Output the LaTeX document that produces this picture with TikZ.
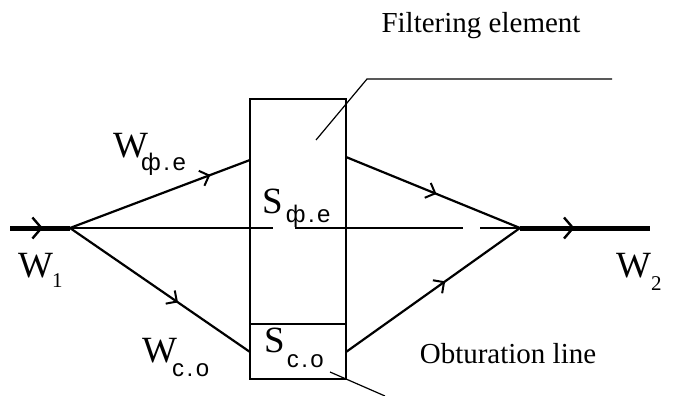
\documentclass[tikz,border=0pt]{standalone}
\usepackage{fontspec}
\setmainfont{Liberation Serif}
\newfontfamily\subf{Liberation Sans}
\usetikzlibrary{arrows.meta,decorations.markings}
\tikzset{
  branch/.style={line width=2.2pt},
  thin line/.style={line width=1.4pt},
  thickflow/.style={line width=5pt},
  midarrow/.style={postaction={decorate,decoration={markings,
     mark=at position #1 with {\arrow[line width=2pt]{Straight Barb[length=8pt,width=16pt]}}}}},
  bigarrow/.style={postaction={decorate,decoration={markings,
     mark=at position #1 with {\arrow[line width=2.4pt]{Straight Barb[length=9pt,width=21pt]}}}}},
  lbl/.style={anchor=base west, inner sep=0pt, font=\fontsize{37}{40}\selectfont},
  caption/.style={anchor=base, inner sep=0pt, font=\fontsize{29}{32}\selectfont},
}
\newcommand{\lowsub}[3]{\raisebox{-#1}{\fontsize{24}{28}\subf #2\kern2.5pt.\kern2.5pt#3}}
\newcommand{\lownum}[2]{\raisebox{-#1}{\fontsize{21}{24}\selectfont #2}}
\begin{document}
\begin{tikzpicture}[x=1pt,y=-1pt]
\useasboundingbox (0,0) rectangle (685,396);
% coordinates
\coordinate (in) at (10,228);
\coordinate (J1) at (70,228);
\coordinate (J2) at (520,228);
\coordinate (out) at (650,228);
\coordinate (UL) at (250,160);
\coordinate (UR) at (346,157);
\coordinate (LL) at (250,352);
\coordinate (LR) at (346,352);
\coordinate (g1a) at (273,228);
\coordinate (g1b) at (295,228);
\coordinate (g2a) at (463,228);
\coordinate (g2b) at (480,228);
\coordinate (fe1) at (316,140);
\coordinate (fe2) at (367,79);
\coordinate (fe3) at (612,79);
\coordinate (ob1) at (330,372);
\coordinate (ob2) at (385,396);
\coordinate (dl) at (250,324);
\coordinate (dr) at (346,324);
% box
\node[draw, thin line, minimum width=96pt, minimum height=280pt, inner sep=0pt] (box) at (298,239) {};
\draw[thin line] (dl) -- (dr);
% centre line
\draw[thin line] (J1) -- (g1a);
\draw[thin line] (g1b) -- (g2a);
\draw[thin line] (g2b) -- (J2);
% flows
\draw[thickflow, bigarrow=0.55] (in) -- (J1);
\draw[thickflow, bigarrow=0.42] (J2) -- (out);
\draw[branch, midarrow=0.78] (J1) -- (UL);
\draw[branch, midarrow=0.52] (UR) -- (J2);
\draw[branch, midarrow=0.6] (J1) -- (LL);
\draw[branch, midarrow=0.57] (LR) -- (J2);
% leaders
\draw[line width=1.2pt] (fe1) -- (fe2) -- (fe3);
\draw[line width=1.2pt] (ob1) -- (ob2);
% labels
\node[lbl] (wfe) at (113,157) {W\kern-7pt\lowsub{13pt}{ф}{e}};
\node[lbl] (w1) at (18,277) {W\kern-1pt\lownum{10pt}{1}};
\node[lbl] (w2) at (616,277) {W\lownum{13pt}{2}};
\node[lbl] (wco) at (142,362) {W\kern-5pt\lowsub{14pt}{c}{o}};
\node[lbl] (sfe) at (262,213) {S\kern3pt\lowsub{9pt}{ф}{e}};
\node[lbl] (sco) at (264,352) {S\kern2pt\lowsub{15pt}{c}{o}};
\node[caption] (fetext) at (481,33) {Filtering element};
\node[caption] (obtext) at (508,363) {Obturation line};
\end{tikzpicture}
\end{document}
